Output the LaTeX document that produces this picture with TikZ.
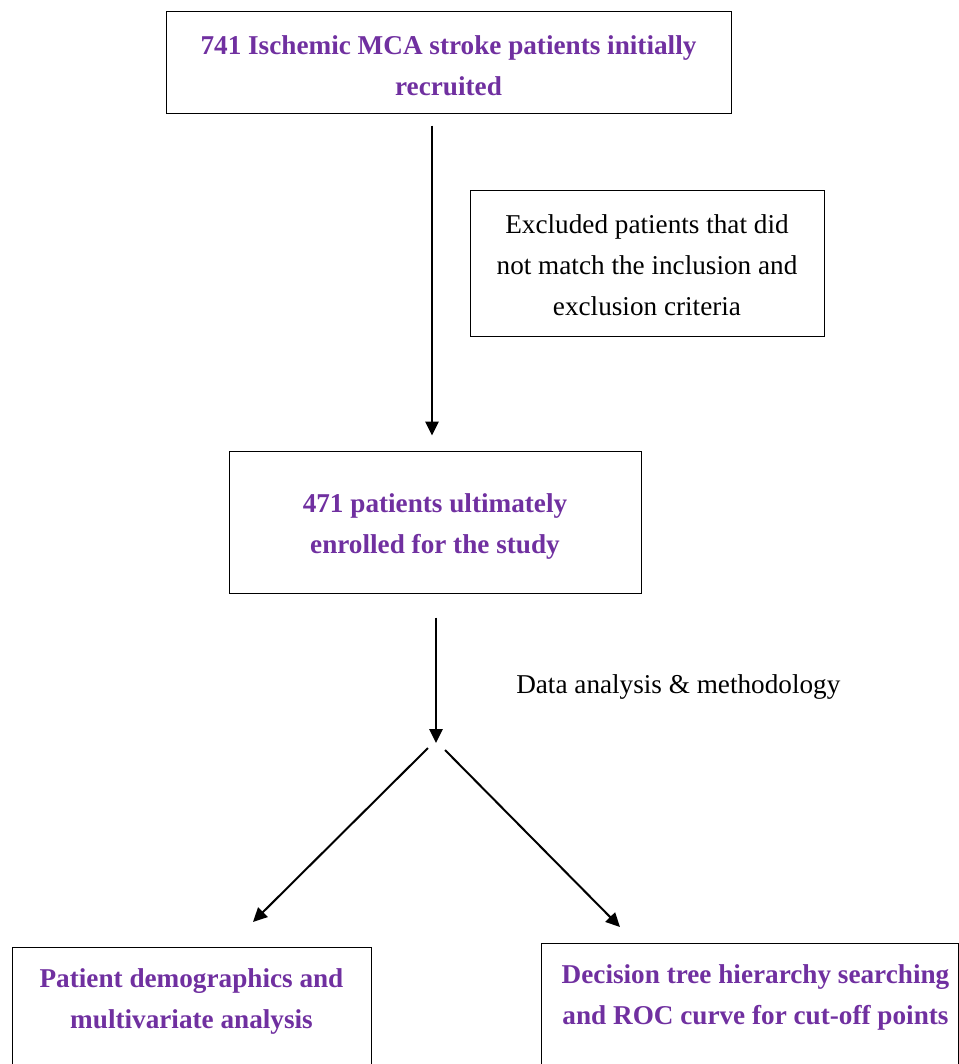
\documentclass[tikz,border=0pt]{standalone}
\usepackage{fontspec}
\setmainfont{Liberation Serif}
\usetikzlibrary{arrows.meta, calc}
\definecolor{flowpurple}{HTML}{7030A0}
\tikzset{%
    box/.style={draw, line width=0.75pt, align=center, inner sep=0pt,
        font=\fontsize{20.4}{30.75}\selectfont},
    boxp/.style={box, text=flowpurple,
        font=\fontsize{20.4}{30.75}\selectfont\bfseries},
    lbl/.style={inner sep=0pt, font=\fontsize{20.4}{30.75}\selectfont},
    pria/.style={line width=1.5pt, -{Triangle[length=10.5pt, width=10pt]}},
}

\begin{document}
\begin{tikzpicture}[x=0.75pt, y=-0.75pt]
    \useasboundingbox (0,0) rectangle (959,1064);
    \clip (0,0) rectangle (959,1064);
    % boxes
    \node[boxp, minimum width=423.75pt, minimum height=76.5pt] (top) at (448.5,62)
        {\rule{0pt}{19.2pt}741 Ischemic MCA stroke patients initially\\recruited};
    \node[box, minimum width=265.5pt, minimum height=109.5pt] (excl) at (647,263)
        {\rule{0pt}{17pt}Excluded patients that did\\not match the inclusion and\\exclusion criteria};
    \node[boxp, minimum width=309pt, minimum height=106.5pt] (mid) at (435,522)
        {\rule{0pt}{21.5pt}471 patients ultimately\\enrolled for the study};
    \node[boxp, minimum width=269.25pt, minimum height=108pt] (left) at (191.5,1019)
        {Patient demographics and\\multivariate analysis\\\mbox{}};
    \node[boxp, minimum width=312.75pt, minimum height=108.75pt] (right) at (749.5,1015.5)
        {\hspace*{9pt}Decision tree hierarchy searching\\\hspace*{9pt}and ROC curve for cut-off points\\\mbox{}};
    \node[lbl, anchor=west] (dalabel) at (516,687) {Data analysis \& methodology};
    % arrows
    \coordinate (split) at (436,743);
    \coordinate (lend) at (253,922);
    \coordinate (rend) at (620,927);
    \draw [pria] ($(top.south)+(-16.5,12)$) -- ($(mid.north)+(-3,-15)$);
    \draw [pria] ($(mid.south)+(1,24)$) -- (split);
    \draw [pria] ($(split)+(-8,5)$) -- (lend);
    \draw [pria] ($(split)+(9,7)$) -- (rend);
\end{tikzpicture}
\end{document}
